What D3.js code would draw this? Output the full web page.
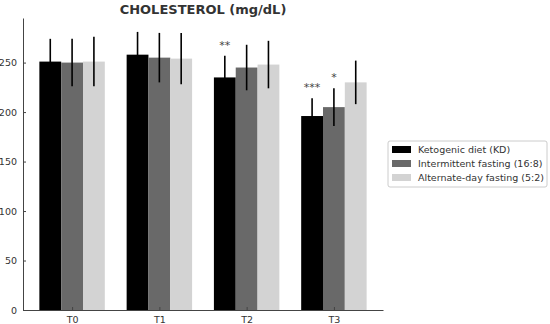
<!DOCTYPE html>
<html>
<head>
<meta charset="utf-8">
<script src="https://cdn.jsdelivr.net/npm/d3@7"></script>
<style>
  body { margin: 0; background: #fff; }
  svg { font-family: "DejaVu Sans", sans-serif; }
</style>
</head>
<body>
<svg id="chart" width="550" height="324"></svg>
<script>
const timepoints = ['T0', 'T1', 'T2', 'T3'];
const seriesNames = ['Ketogenic diet (KD)', 'Intermittent fasting (16:8)', 'Alternate-day fasting (5:2)'];
const seriesColors = ['#000000', '#696969', '#d3d3d3'];
const kdMeans = [251, 258, 235, 196];
const kdErr = [23, 23, 22, 18];
const ifMeans = [250, 255, 245, 205];
const ifErr = [24, 25, 23, 19];
const adfMeans = [251, 254, 248, 230];
const adfErr = [25, 26, 24, 22];
// significance stars: [timepoint index, series index, label]
const stars = [[2, 0, '**'], [3, 0, '***'], [3, 1, '*']];
const yTicks = [0, 50, 100, 150, 200, 250];

const means = [kdMeans, ifMeans, adfMeans];
const errs = [kdErr, ifErr, adfErr];

const svg = d3.select('#chart');
const margin = { left: 23, right: 167, top: 18, bottom: 14 };
const width = 550, height = 324;

// matplotlib style: bars at i + (j-1)*0.25, width 0.25, 5% margins
const x = d3.scaleLinear()
    .domain([-0.5625, 3.5625])
    .range([margin.left, width - margin.right]);
const yMax = d3.max(means.flatMap((m, j) => m.map((v, i) => v + errs[j][i]))) * 1.05;
const y = d3.scaleLinear()
    .domain([0, yMax])
    .range([height - margin.bottom, margin.top]);

const barW = x(0.25) - x(0);

means.forEach((vals, j) => {
    const g = svg.append('g');
    g.selectAll('rect')
        .data(vals)
        .enter()
        .append('rect')
        .attr('x', (d, i) => x(i + (j - 1) * 0.25) - barW / 2)
        .attr('y', d => y(d))
        .attr('width', barW)
        .attr('height', d => y(0) - y(d))
        .attr('fill', seriesColors[j]);
});

means.forEach((vals, j) => {
    svg.append('g').selectAll('line')
        .data(vals)
        .enter()
        .append('line')
        .attr('x1', (d, i) => x(i + (j - 1) * 0.25))
        .attr('x2', (d, i) => x(i + (j - 1) * 0.25))
        .attr('y1', (d, i) => y(d - errs[j][i]))
        .attr('y2', (d, i) => y(d + errs[j][i]))
        .attr('stroke', '#000')
        .attr('stroke-width', 1.6);
});

svg.append('g').selectAll('text')
    .data(stars)
    .enter()
    .append('text')
    .attr('x', d => x(d[0] + (d[1] - 1) * 0.25))
    .attr('y', d => y(means[d[1]][d[0]] + errs[d[1]][d[0]]) - 7)
    .attr('text-anchor', 'middle')
    .attr('font-size', 11)
    .attr('fill', '#444')
    .text(d => d[2]);

// axes
const xAxis = d3.axisBottom(x)
    .tickValues([0, 1, 2, 3])
    .tickFormat(i => timepoints[i])
    .tickSizeInner(-3)
    .tickSizeOuter(0)
    .tickPadding(6);
const gx = svg.append('g')
    .attr('transform', `translate(0,${y(0)})`)
    .call(xAxis);

const yAxis = d3.axisLeft(y)
    .tickValues(yTicks)
    .tickSizeInner(-3)
    .tickSizeOuter(0)
    .tickPadding(6);
const gy = svg.append('g')
    .attr('transform', `translate(${margin.left},0)`)
    .call(yAxis);

[gx, gy].forEach(g => {
    g.select('.domain').attr('stroke', '#444').attr('stroke-width', 1);
    g.selectAll('.tick line').attr('stroke', '#444');
    g.selectAll('.tick text').attr('font-size', 9.5).attr('fill', '#333')
        .attr('font-family', '"DejaVu Sans", sans-serif');
});

svg.append('text')
    .attr('x', (x.range()[0] + x.range()[1]) / 2)
    .attr('y', 14)
    .attr('text-anchor', 'middle')
    .attr('font-size', 13)
    .attr('font-weight', 'bold')
    .attr('fill', '#333')
    .text('CHOLESTEROL (mg/dL)');

// legend
const legend = svg.append('g').attr('transform', 'translate(388,141)');
legend.append('rect')
    .attr('width', 159)
    .attr('height', 46)
    .attr('rx', 2)
    .attr('fill', '#fff')
    .attr('stroke', '#ccc');
seriesNames.forEach((name, j) => {
    const row = legend.append('g').attr('transform', `translate(0,${8 + j * 14})`);
    row.append('rect')
        .attr('x', 4).attr('y', -3)
        .attr('width', 19).attr('height', 7)
        .attr('fill', seriesColors[j]);
    row.append('text')
        .attr('x', 30).attr('y', 4)
        .attr('font-size', 9.5)
        .attr('fill', '#333')
        .text(name);
});
</script>
</body>
</html>
